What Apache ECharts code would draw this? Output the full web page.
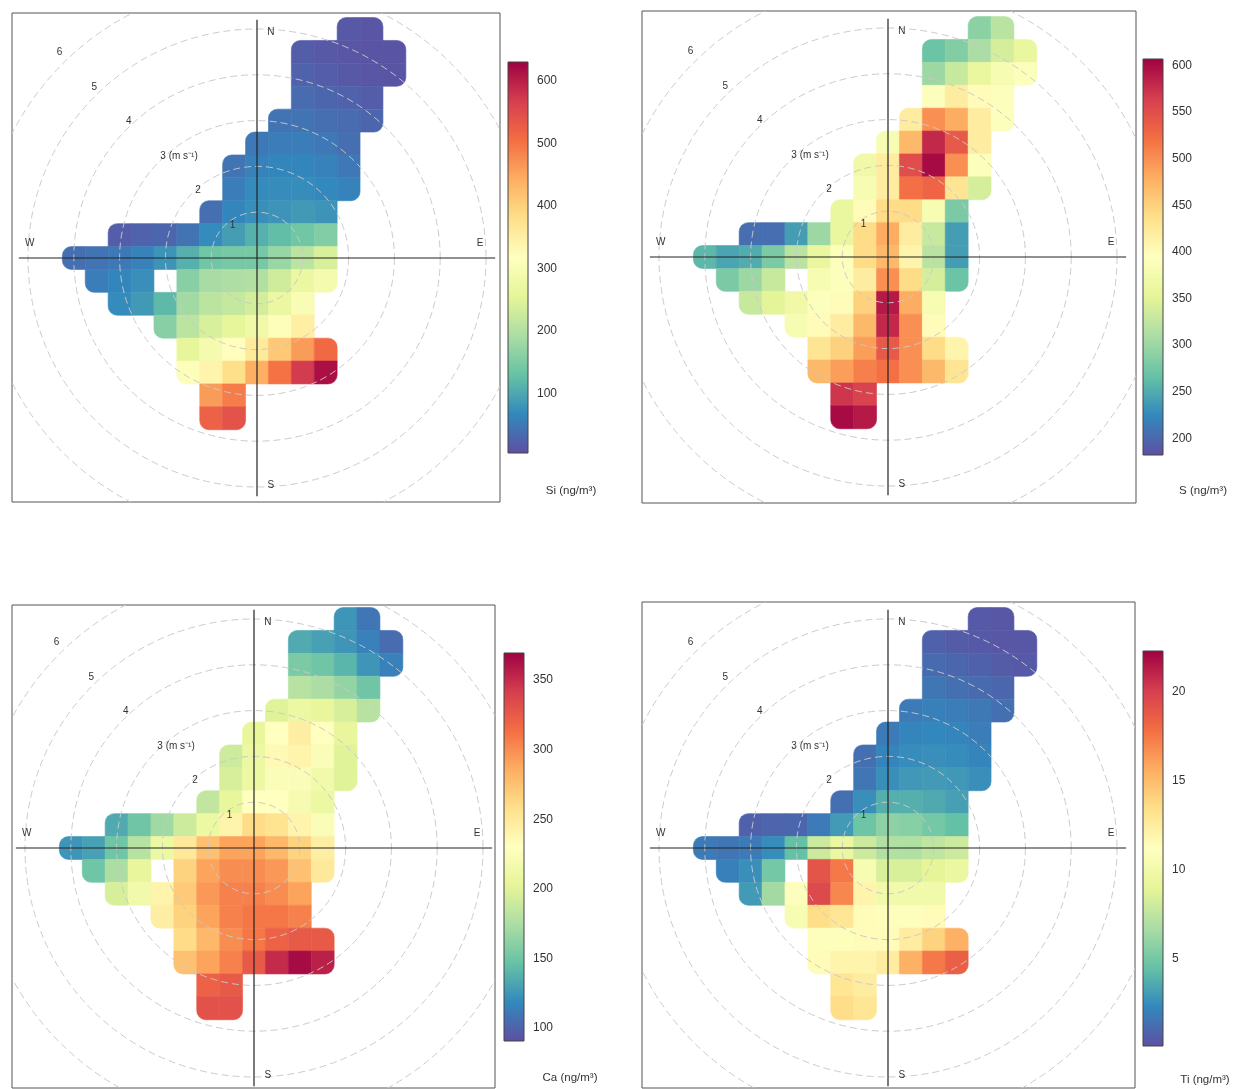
<!DOCTYPE html>
<html>
<head>
<meta charset="utf-8">
<title>Polar plots: Si, S, Ca, Ti</title>
<script src="https://cdn.jsdelivr.net/npm/echarts@6/dist/echarts.min.js"></script>
<style>
  html, body { margin: 0; padding: 0; background: #ffffff; }
  #chart { width: 1247px; height: 1089px; }
</style>
</head>
<body>
<div id="chart"></div>
<script>
const _ = null;

// Wind components (m/s) at the centres of the 0.5 m/s grid cells: u = east, v = north
const uCells = [-4, -3.5, -3, -2.5, -2, -1.5, -1, -0.5, 0, 0.5, 1, 1.5, 2, 2.5, 3];
const vCells = [5, 4.5, 4, 3.5, 3, 2.5, 2, 1.5, 1, 0.5, 0, -0.5, -1, -1.5, -2, -2.5, -3, -3.5];

// Mean concentration (ng/m³) in each cell, rows follow vCells, columns follow uCells
const siGrid = [
  [_,_,_,_,_,_,_,_,_,_,_,_,15,12,_],
  [_,_,_,_,_,_,_,_,_,_,20,15,12,10,10],
  [_,_,_,_,_,_,_,_,_,_,25,20,15,12,10],
  [_,_,_,_,_,_,_,_,_,_,35,30,25,20,_],
  [_,_,_,_,_,_,_,_,_,45,45,40,35,30,_],
  [_,_,_,_,_,_,_,_,50,55,55,50,40,_,_],
  [_,_,_,_,_,_,_,45,60,65,65,60,50,_,_],
  [_,_,_,_,_,_,_,55,70,72,72,68,62,_,_],
  [_,_,_,_,_,_,40,65,75,80,85,80,_,_,_],
  [_,_,20,25,30,45,70,90,110,125,140,155,_,_,_],
  [40,45,50,60,80,110,140,145,145,175,210,240,_,_,_],
  [_,55,65,75,_,160,190,195,200,230,270,290,_,_,_],
  [_,_,70,85,120,185,210,220,235,270,300,_,_,_,_],
  [_,_,_,_,160,210,240,260,280,310,350,_,_,_,_],
  [_,_,_,_,_,260,290,320,360,410,460,510,_,_,_],
  [_,_,_,_,_,310,340,380,440,500,570,615,_,_,_],
  [_,_,_,_,_,_,460,490,_,_,_,_,_,_,_],
  [_,_,_,_,_,_,520,540,_,_,_,_,_,_,_]
];

const sGrid = [
  [_,_,_,_,_,_,_,_,_,_,_,_,290,320,_],
  [_,_,_,_,_,_,_,_,_,_,270,285,310,340,360],
  [_,_,_,_,_,_,_,_,_,_,300,330,360,380,390],
  [_,_,_,_,_,_,_,_,_,_,390,420,400,390,_],
  [_,_,_,_,_,_,_,_,_,420,500,480,420,390,_],
  [_,_,_,_,_,_,_,_,380,470,580,540,420,_,_],
  [_,_,_,_,_,_,_,370,420,550,600,500,390,_,_],
  [_,_,_,_,_,_,_,380,420,520,530,430,340,_,_],
  [_,_,_,_,_,_,360,400,440,440,380,280,_,_,_],
  [_,_,205,205,240,300,360,440,480,420,330,240,_,_,_],
  [260,245,250,280,320,360,390,440,470,410,320,240,_,_,_],
  [_,280,300,330,_,380,390,420,500,440,340,270,_,_,_],
  [_,_,330,350,370,390,400,450,590,480,380,_,_,_,_],
  [_,_,_,_,380,400,420,470,580,500,400,_,_,_,_],
  [_,_,_,_,_,430,450,490,540,500,440,410,_,_,_],
  [_,_,_,_,_,470,490,510,520,500,470,430,_,_,_],
  [_,_,_,_,_,_,570,560,_,_,_,_,_,_,_],
  [_,_,_,_,_,_,600,590,_,_,_,_,_,_,_]
];

const caGrid = [
  [_,_,_,_,_,_,_,_,_,_,_,_,125,110,_],
  [_,_,_,_,_,_,_,_,_,_,135,130,125,115,105],
  [_,_,_,_,_,_,_,_,_,_,155,150,140,125,115],
  [_,_,_,_,_,_,_,_,_,_,180,175,165,150,_],
  [_,_,_,_,_,_,_,_,_,200,210,205,195,180,_],
  [_,_,_,_,_,_,_,_,205,230,245,230,205,_,_],
  [_,_,_,_,_,_,_,190,210,235,240,225,200,_,_],
  [_,_,_,_,_,_,_,195,210,225,225,215,200,_,_],
  [_,_,_,_,_,_,185,205,230,230,220,210,_,_,_],
  [_,_,135,150,170,190,210,240,260,255,240,225,_,_,_],
  [125,130,150,180,210,250,275,290,290,280,265,245,_,_,_],
  [_,150,175,205,_,265,290,300,300,295,275,250,_,_,_],
  [_,_,195,215,240,270,295,305,305,300,290,_,_,_,_],
  [_,_,_,_,245,265,290,305,310,310,305,_,_,_,_],
  [_,_,_,_,_,260,280,300,310,320,325,325,_,_,_],
  [_,_,_,_,_,275,290,305,325,350,365,355,_,_,_],
  [_,_,_,_,_,_,320,325,_,_,_,_,_,_,_],
  [_,_,_,_,_,_,330,330,_,_,_,_,_,_,_]
];

const tiGrid = [
  [_,_,_,_,_,_,_,_,_,_,_,_,0.5,0.4,_],
  [_,_,_,_,_,_,_,_,_,_,0.8,0.6,0.5,0.4,0.4],
  [_,_,_,_,_,_,_,_,_,_,1.2,1.0,0.8,0.6,0.5],
  [_,_,_,_,_,_,_,_,_,_,1.6,1.4,1.2,1.0,_],
  [_,_,_,_,_,_,_,_,_,1.8,2.0,1.9,1.7,1.4,_],
  [_,_,_,_,_,_,_,_,1.8,2.2,2.3,2.2,1.9,_,_],
  [_,_,_,_,_,_,_,1.4,2.2,2.5,2.6,2.5,2.2,_,_],
  [_,_,_,_,_,_,_,1.6,2.6,2.9,3.0,2.9,2.6,_,_],
  [_,_,_,_,_,_,1.4,2.6,3.8,3.8,3.6,3.2,_,_,_],
  [_,_,0.8,0.9,1.0,1.8,3.0,4.8,5.8,5.6,5.0,4.5,_,_,_],
  [1.8,1.6,1.8,2.5,4.5,8.0,9.5,8.0,7.0,7.0,7.5,8.0,_,_,_],
  [_,2.0,2.6,5.0,_,19.0,17.5,10.5,8.5,8.5,9.0,9.5,_,_,_],
  [_,_,3.0,6.5,11.0,19.5,17.0,12.0,10.0,10.0,10.0,_,_,_,_],
  [_,_,_,_,10.5,13.5,13.0,11.5,11.0,11.0,11.5,_,_,_,_],
  [_,_,_,_,_,11.0,11.0,11.5,11.5,12.5,14.0,15.5,_,_,_],
  [_,_,_,_,_,11.5,12.0,12.0,12.5,15.5,17.5,18.5,_,_,_],
  [_,_,_,_,_,_,13.0,12.5,_,_,_,_,_,_,_],
  [_,_,_,_,_,_,13.5,13.0,_,_,_,_,_,_,_]
];

// Colour-key ranges and tick labels
const siRange = [4.5, 630];
const sRange = [182, 607];
const caRange = [90.7, 369.4];
const tiRange = [0.1, 22.3];
const siTicks = [100, 200, 300, 400, 500, 600];
const sTicks = [200, 250, 300, 350, 400, 450, 500, 550, 600];
const caTicks = [100, 150, 200, 250, 300, 350];
const tiTicks = [5, 10, 15, 20];
const keyTitles = ['Si (ng/m³)', 'S (ng/m³)', 'Ca (ng/m³)', 'Ti (ng/m³)'];

// Wind-speed rings and compass points
const ringSpeeds = [1, 2, 3, 4, 5, 6];
const compassNames = ['N', 'E', 'S', 'W'];

// ---- layout and styling ----
const FONT = '"Liberation Sans", Arial, Helvetica, sans-serif';
const PX_PER_MS = 45.8;   // pixels per 1 m/s
const STEP = 0.5;         // grid cell size in m/s
const AXIS_HALF = 5.2;    // half length of the crosshair, m/s
const EDGE_ROUND = 9;     // corner rounding (px) on the outer edge of the surface
const spectral = ['#5E4FA2', '#3288BD', '#66C2A5', '#ABDDA4', '#E6F598', '#FFFFBF',
                  '#FEE08B', '#FDAE61', '#F46D43', '#D53E4F', '#9E0142'];

const panels = [
  { grid: siGrid, range: siRange, ticks: siTicks, title: keyTitles[0],
    cx: 257, cy: 258, box: [12, 13, 500, 502], bar: [508, 62, 453], titleAt: [571, 491] },
  { grid: sGrid, range: sRange, ticks: sTicks, title: keyTitles[1],
    cx: 888, cy: 257, box: [642, 11, 1136, 503], bar: [1143, 59, 455], titleAt: [1203, 491] },
  { grid: caGrid, range: caRange, ticks: caTicks, title: keyTitles[2],
    cx: 254, cy: 848, box: [12, 605, 495, 1088], bar: [504, 653, 1041], titleAt: [570, 1078] },
  { grid: tiGrid, range: tiRange, ticks: tiTicks, title: keyTitles[3],
    cx: 888, cy: 848, box: [642, 602, 1135, 1088], bar: [1143, 651, 1046], titleAt: [1205, 1080] }
];

// label anchors (m/s) for the compass points
const compassAt = { N: [0.3, 4.93], E: [4.87, 0.33], S: [0.3, -4.96], W: [-4.96, 0.33] };

function textSeries(gi, items, z) {
  return {
    type: 'custom', xAxisIndex: gi, yAxisIndex: gi, silent: true, z: z,
    data: items.map(d => [d.u, d.v]),
    renderItem(params, api) {
      const d = items[params.dataIndex];
      const pt = api.coord([d.u, d.v]);
      return {
        type: 'text', x: pt[0] + (d.dx || 0), y: pt[1],
        style: {
          text: d.text, fill: '#333', font: '10px ' + FONT,
          textAlign: d.align || 'center', textVerticalAlign: 'middle',
          align: d.align || 'center', verticalAlign: 'middle'
        }
      };
    }
  };
}

const option = {
  animation: false,
  backgroundColor: '#ffffff',
  grid: [], xAxis: [], yAxis: [], series: [], visualMap: [], graphic: []
};

panels.forEach((p) => {
  const [bl, bt, br, bb] = p.box;
  const gi = option.grid.length;

  // polar plot frame, scaled in m/s
  option.grid.push({ left: bl, top: bt, width: br - bl, height: bb - bt,
    show: true, borderColor: '#555', borderWidth: 1, backgroundColor: 'transparent' });
  option.xAxis.push({ type: 'value', gridIndex: gi, show: false,
    min: (bl - p.cx) / PX_PER_MS, max: (br - p.cx) / PX_PER_MS });
  option.yAxis.push({ type: 'value', gridIndex: gi, show: false,
    min: (p.cy - bb) / PX_PER_MS, max: (p.cy - bt) / PX_PER_MS });

  // concentration surface
  const has = (r, c) => r >= 0 && r < p.grid.length && c >= 0 && c < uCells.length && p.grid[r][c] !== null;
  const cells = [];
  p.grid.forEach((row, r) => row.forEach((val, c) => {
    if (val !== null) cells.push([uCells[c], vCells[r], val, r, c]);
  }));
  const heatIndex = option.series.length;
  option.series.push({
    type: 'custom', xAxisIndex: gi, yAxisIndex: gi, silent: true, z: 2,
    data: cells, encode: { x: 0, y: 1 },
    renderItem(params, api) {
      const u = api.value(0), v = api.value(1);
      const r = api.value(3), c = api.value(4);
      const a = api.coord([u - STEP / 2, v + STEP / 2]);
      const b = api.coord([u + STEP / 2, v - STEP / 2]);
      const col = api.visual('color');
      const up = has(r - 1, c), dn = has(r + 1, c), lf = has(r, c - 1), rt = has(r, c + 1);
      const R = EDGE_ROUND;
      const corners = [(!up && !lf) ? R : 0, (!up && !rt) ? R : 0, (!dn && !rt) ? R : 0, (!dn && !lf) ? R : 0];
      return { type: 'rect',
        shape: { x: a[0], y: a[1], width: b[0] - a[0], height: b[1] - a[1], r: corners },
        style: { fill: col, stroke: col, lineWidth: 0.6 } };
    }
  });
  option.visualMap.push({
    type: 'continuous', show: false, seriesIndex: heatIndex, dimension: 2,
    min: p.range[0], max: p.range[1], inRange: { color: spectral }
  });

  // wind-speed rings
  option.series.push({
    type: 'custom', xAxisIndex: gi, yAxisIndex: gi, silent: true, z: 3, clip: true,
    data: ringSpeeds.map(r => [r, 0]),
    renderItem(params, api) {
      const c0 = api.coord([0, 0]);
      const c1 = api.coord([api.value(0), 0]);
      return { type: 'circle', shape: { cx: c0[0], cy: c0[1], r: c1[0] - c0[0] },
        style: { fill: null, stroke: 'rgba(200,200,200,0.95)', lineWidth: 1, lineDash: [7, 4] } };
    }
  });

  // crosshair
  [[[-AXIS_HALF, 0], [AXIS_HALF, 0]], [[0, AXIS_HALF], [0, -AXIS_HALF]]].forEach(seg => {
    option.series.push({
      type: 'line', xAxisIndex: gi, yAxisIndex: gi, silent: true, z: 4,
      data: seg, symbol: 'none', lineStyle: { color: '#222', width: 1.2 }
    });
  });

  // ring labels along the north-west diagonal, compass points on the 5 m/s ring
  const ringItems = ringSpeeds.map(n => ({
    u: -0.755 * n + 0.22, v: 0.755 * n - 0.04,
    text: n === 3 ? '3 (m s⁻¹)' : String(n),
    align: n === 3 ? 'left' : 'center', dx: n === 3 ? -3 : 0
  }));
  const compassItems = compassNames.map(k => ({ u: compassAt[k][0], v: compassAt[k][1], text: k }));
  option.series.push(textSeries(gi, ringItems.concat(compassItems), 5));

  // colour key
  const [kx, kt, kb] = p.bar;
  const ki = option.grid.length;
  option.grid.push({ left: kx, top: kt, width: 20, height: kb - kt, show: false });
  option.xAxis.push({ type: 'value', gridIndex: ki, show: false, min: 0, max: 1 });
  option.yAxis.push({
    type: 'value', gridIndex: ki, position: 'right', min: p.range[0], max: p.range[1],
    axisLine: { show: false }, splitLine: { show: false },
    axisTick: { show: true, customValues: p.ticks, length: 5, lineStyle: { color: '#444', width: 1 } },
    axisLabel: { customValues: p.ticks, color: '#333', fontSize: 12, fontFamily: FONT, margin: 9 }
  });
  const lo = p.range[0], hi = p.range[1];
  option.series.push({
    type: 'custom', xAxisIndex: ki, yAxisIndex: ki, silent: true, z: 2,
    data: [[0.5, lo]],
    renderItem(params, api) {
      const a = api.coord([0, hi]);
      const b = api.coord([1, lo]);
      return { type: 'rect',
        shape: { x: a[0], y: a[1], width: b[0] - a[0], height: b[1] - a[1] },
        style: {
          fill: { type: 'linear', x: 0, y: 1, x2: 0, y2: 0,
            colorStops: spectral.map((c, i) => ({ offset: i / (spectral.length - 1), color: c })) },
          stroke: '#444', lineWidth: 1
        } };
    }
  });

  option.graphic.push({
    type: 'text', x: p.titleAt[0], y: p.titleAt[1], silent: true,
    style: { text: p.title, fill: '#333', font: '11.5px ' + FONT,
      textAlign: 'center', textVerticalAlign: 'middle', align: 'center', verticalAlign: 'middle' }
  });
});

const chart = echarts.init(document.getElementById('chart'), null, { renderer: 'canvas' });
chart.setOption(option);
</script>
</body>
</html>
